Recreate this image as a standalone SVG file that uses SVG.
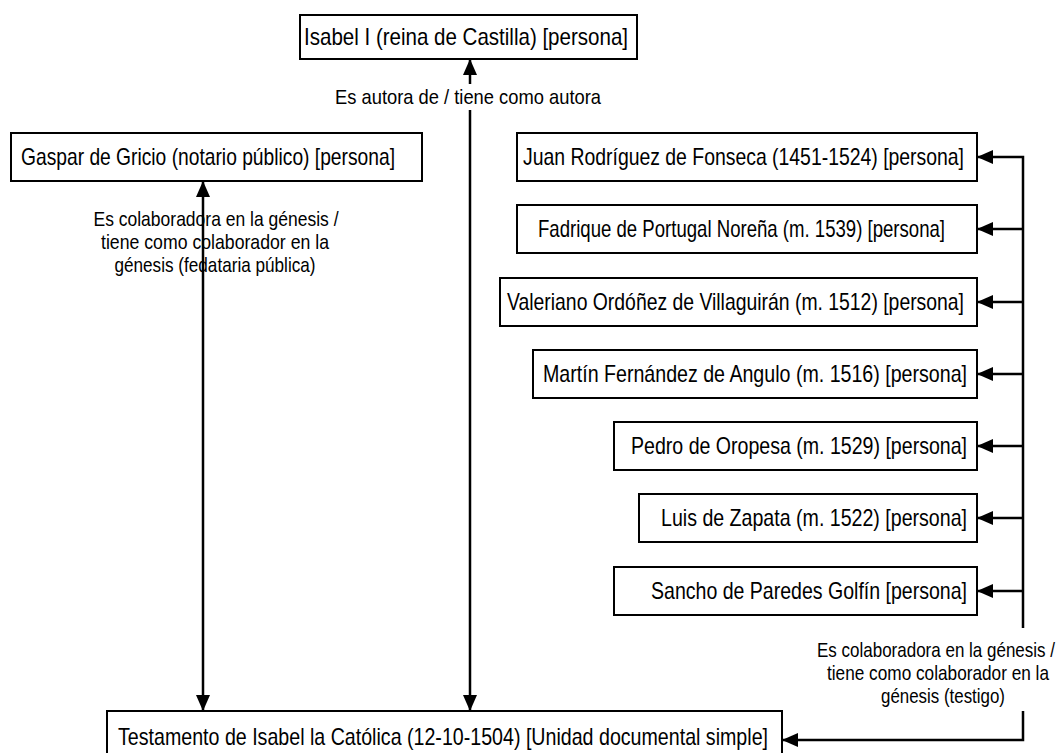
<svg xmlns="http://www.w3.org/2000/svg" width="1064" height="753" viewBox="0 0 1064 753">
<style>
.box{fill:#fff;stroke:#000;stroke-width:2}
.t{font-family:"Liberation Sans Narrow","Arial Narrow","Liberation Sans",Arial,sans-serif;font-size:24px;fill:#000}
.e{font-family:"Liberation Sans Narrow","Arial Narrow","Liberation Sans",Arial,sans-serif;font-size:21px;fill:#000;text-anchor:middle}
.c{fill:none;stroke:#000;stroke-width:2.5}
.bg{fill:#fff}
</style>
<defs>
<marker id="ah" markerUnits="userSpaceOnUse" markerWidth="17" markerHeight="15" refX="16" refY="7" orient="auto-start-reverse" viewBox="0 0 17 14">
<path d="M0,0 L16,7 L0,14 z" fill="#000"/>
</marker>
</defs>
<g id="n-isabel"><rect class="box" x="300" y="15" width="337" height="44"/><text class="t" x="304" y="45" textLength="324" lengthAdjust="spacingAndGlyphs">Isabel I (reina de Castilla) [persona]</text></g>
<g id="n-gaspar"><rect class="box" x="11" y="133" width="411" height="48"/><text class="t" x="21" y="165" textLength="374" lengthAdjust="spacingAndGlyphs">Gaspar de Gricio (notario público) [persona]</text></g>
<g id="n-juan"><rect class="box" x="517" y="133" width="460" height="48"/><text class="t" x="523" y="165" textLength="441" lengthAdjust="spacingAndGlyphs">Juan Rodríguez de Fonseca (1451-1524) [persona]</text></g>
<g id="n-fadrique"><rect class="box" x="517" y="205" width="460" height="48"/><text class="t" x="538" y="237" textLength="407" lengthAdjust="spacingAndGlyphs">Fadrique de Portugal Noreña (m. 1539) [persona]</text></g>
<g id="n-valeriano"><rect class="box" x="500" y="278" width="477" height="48"/><text class="t" x="507" y="310" textLength="457" lengthAdjust="spacingAndGlyphs">Valeriano Ordóñez de Villaguirán (m. 1512) [persona]</text></g>
<g id="n-martin"><rect class="box" x="533" y="350" width="444" height="48"/><text class="t" x="543" y="382" textLength="424" lengthAdjust="spacingAndGlyphs">Martín Fernández de Angulo (m. 1516) [persona]</text></g>
<g id="n-pedro"><rect class="box" x="614" y="422" width="363" height="48"/><text class="t" x="631" y="454" textLength="336" lengthAdjust="spacingAndGlyphs">Pedro de Oropesa (m. 1529) [persona]</text></g>
<g id="n-luis"><rect class="box" x="639" y="494" width="338" height="48"/><text class="t" x="661" y="526" textLength="306" lengthAdjust="spacingAndGlyphs">Luis de Zapata (m. 1522) [persona]</text></g>
<g id="n-sancho"><rect class="box" x="614" y="567" width="363" height="48"/><text class="t" x="651" y="599" textLength="316" lengthAdjust="spacingAndGlyphs">Sancho de Paredes Golfín [persona]</text></g>
<g id="n-testamento"><rect class="box" x="107" y="711" width="675" height="48"/><text class="t" x="118" y="745" textLength="650" lengthAdjust="spacingAndGlyphs">Testamento de Isabel la Católica (12-10-1504) [Unidad documental simple]</text></g>
<g id="connectors">
<line class="c" x1="470" y1="59" x2="470" y2="711" marker-start="url(#ah)" marker-end="url(#ah)"/>
<rect class="bg" x="330" y="84" width="276" height="26"/>
<text class="e" x="468" y="104" textLength="266" lengthAdjust="spacingAndGlyphs">Es autora de / tiene como autora</text>
<text class="e" x="216" y="226" textLength="245" lengthAdjust="spacingAndGlyphs">Es colaboradora en la génesis /</text>
<text class="e" x="215" y="249" textLength="228" lengthAdjust="spacingAndGlyphs">tiene como colaborador en la</text>
<text class="e" x="215" y="272" textLength="201" lengthAdjust="spacingAndGlyphs">génesis (fedataria pública)</text>
<line class="c" x1="203" y1="181" x2="203" y2="711" marker-start="url(#ah)" marker-end="url(#ah)"/>
<polyline class="c" points="977,157 1023,157 1023,740 782,740" marker-start="url(#ah)" marker-end="url(#ah)"/>
<polyline class="c" points="977,229 1023,229" marker-start="url(#ah)"/>
<polyline class="c" points="977,302 1023,302" marker-start="url(#ah)"/>
<polyline class="c" points="977,374 1023,374" marker-start="url(#ah)"/>
<polyline class="c" points="977,446 1023,446" marker-start="url(#ah)"/>
<polyline class="c" points="977,518 1023,518" marker-start="url(#ah)"/>
<polyline class="c" points="977,591 1023,591" marker-start="url(#ah)"/>
<rect class="bg" x="810" y="628" width="254" height="83"/>
<text class="e" x="936" y="657" textLength="238" lengthAdjust="spacingAndGlyphs">Es colaboradora en la génesis /</text>
<text class="e" x="938" y="680" textLength="222" lengthAdjust="spacingAndGlyphs">tiene como colaborador en la</text>
<text class="e" x="943" y="703" textLength="124" lengthAdjust="spacingAndGlyphs">génesis (testigo)</text>
</g>
</svg>
